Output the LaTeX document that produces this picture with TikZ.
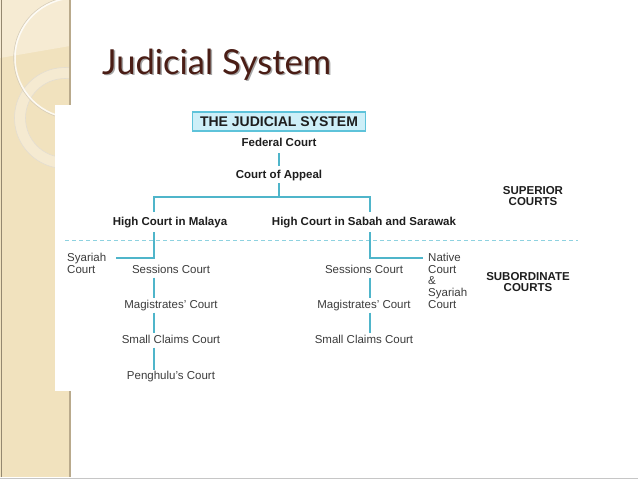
\documentclass[tikz,border=0pt]{standalone}
\usepackage{fontspec}
\setmainfont{Liberation Sans}
\newfontfamily\titlefont{Lato}
\usetikzlibrary{calc}
\definecolor{beige}{HTML}{F1E2BE}
\definecolor{beigelight}{HTML}{F6EBD3}
\definecolor{bandedge}{HTML}{B9AA8C}
\definecolor{titlebrown}{HTML}{4A1D15}
\definecolor{linkc}{HTML}{4FB5CA}
\definecolor{dashc}{HTML}{8ED2E0}
\definecolor{boxfill}{HTML}{CDEFF8}
\definecolor{boxdraw}{HTML}{5EC3DA}
\definecolor{lbl}{HTML}{3C3C3C}
\definecolor{hdr}{HTML}{1E1E1E}
\begin{document}
\begin{tikzpicture}[x=1pt,y=-1pt,
  lab/.style={font=\fontsize{11.5}{11.8}\selectfont, text=lbl, inner sep=0pt},
  hd/.style={font=\bfseries\fontsize{11.5}{11.5}\selectfont, text=hdr, inner sep=0pt},
  link/.style={draw=linkc, line width=1.2pt},
  ttl/.style={font=\titlefont\fontsize{34.5}{34.5}\selectfont, inner sep=0pt, anchor=base west}]
\useasboundingbox (0,0) rectangle (638,479);
% background
\fill[white] (0,0) rectangle (638,479);
\fill[beige] (0,0) rectangle (70,477);
\fill[beigelight] (0,0) -- (70,0) -- (70,46) -- (0,58) -- cycle;
\begin{scope}
  \clip (0,0) rectangle (70,477);
  \draw[white, opacity=0.3, line width=11pt] (65,118) circle (45);
  \draw[bandedge!40, line width=0.6pt] (65,118) circle (50.5);
  \draw[bandedge!40, line width=0.6pt] (65,118) circle (39.5);
  \draw[bandedge!60, line width=0.6pt] (75,58) circle (61.3);
  \draw[white, opacity=0.8, line width=1.5pt] (75,58) circle (60);
\end{scope}
\draw[bandedge, line width=1.2pt] (70,0) -- (70,477);
\draw[bandedge!80!black, line width=0.8pt] (1,0) -- (1,477);
\draw[gray!45, line width=1pt] (0,478.5) -- (638,478.5);
\fill[white] (55,105) rectangle (600,391);
% title
\node[ttl, text=gray!70] at (103.5,75.5) {Judicial System};
\node[ttl, text=titlebrown] (ttl) at (102,74) {Judicial System};
% box
\node[draw=boxdraw, fill=boxfill, line width=1.2pt, minimum width=173, minimum height=19,
      inner sep=0pt, font=\bfseries\fontsize{14}{14}\selectfont, text=hdr] (box) at (279,121.5) {THE JUDICIAL SYSTEM};
% superior
\node[hd, anchor=base] (fed) at (279,146) {Federal Court};
\node[hd, anchor=base] (coa) at (279,178) {Court of Appeal};
\node[hd, anchor=base] (hcm) at (170,225) {High Court in Malaya};
\node[hd, anchor=base] (hcs) at (364,225) {High Court in Sabah and Sarawak};
\node[hd, anchor=north, align=center] (sup) at (533,185.8) {SUPERIOR\\COURTS};
% subordinate
\node[lab, anchor=north west, align=left] (syl) at (67,252.8) {Syariah\\Court};
\node[lab, anchor=base] (sesl) at (171,273) {Sessions Court};
\node[lab, anchor=base] (magl) at (171,308) {Magistrates' Court};
\node[lab, anchor=base] (scl) at (171,343) {Small Claims Court};
\node[lab, anchor=base] (pen) at (171,379) {Penghulu's Court};
\node[lab, anchor=base] (sesr) at (364,273) {Sessions Court};
\node[lab, anchor=base] (magr) at (364,308) {Magistrates' Court};
\node[lab, anchor=base] (scr) at (364,343) {Small Claims Court};
\node[lab, anchor=north west, align=left] (nat) at (428,252.8) {Native\\Court\\\&\\Syariah\\Court};
\node[hd, anchor=north, align=center] (sub) at (528,271.8) {SUBORDINATE\\COURTS};
% coordinates
\coordinate (bar) at (279,197);
\coordinate (bl) at (154,197);
\coordinate (br) at (370,197);
\coordinate (jl) at (154,258);
\coordinate (jr) at (370,258);
\coordinate (dl) at (65,240);
\coordinate (dr) at (578,240);
% dashed divider
\draw[dashc, line width=1pt, dash pattern=on 4pt off 3pt] (dl) -- (dr);
% connectors
\draw[link] ([yshift=-7pt]fed.base) -- ([yshift=12pt]coa.base);
\draw[link] ([yshift=-5pt]coa.base) -- (bar);
\draw[link] ([yshift=13pt]hcm.base -| bl) -- (bl) -- (br) -- ([yshift=13pt]hcs.base -| br);
\draw[link] ([yshift=-7pt]hcm.base -| jl) -- (jl) -- ([xshift=10pt]syl.east |- jl);
\draw[link] ([yshift=-7pt]hcs.base -| jr) -- (jr) -- ([xshift=-5pt]nat.west |- jr);
\draw[link] ([yshift=-4.5pt]sesl.base -| jl) -- ([yshift=10.5pt]magl.base -| jl);
\draw[link] ([yshift=-4.5pt]magl.base -| jl) -- ([yshift=10.5pt]scl.base -| jl);
\draw[link] ([yshift=-4.5pt]scl.base -| jl) -- ([yshift=9pt]pen.base -| jl);
\draw[link] ([yshift=-4.5pt]sesr.base -| jr) -- ([yshift=10.5pt]magr.base -| jr);
\draw[link] ([yshift=-4.5pt]magr.base -| jr) -- ([yshift=10.5pt]scr.base -| jr);
\end{tikzpicture}
\end{document}
